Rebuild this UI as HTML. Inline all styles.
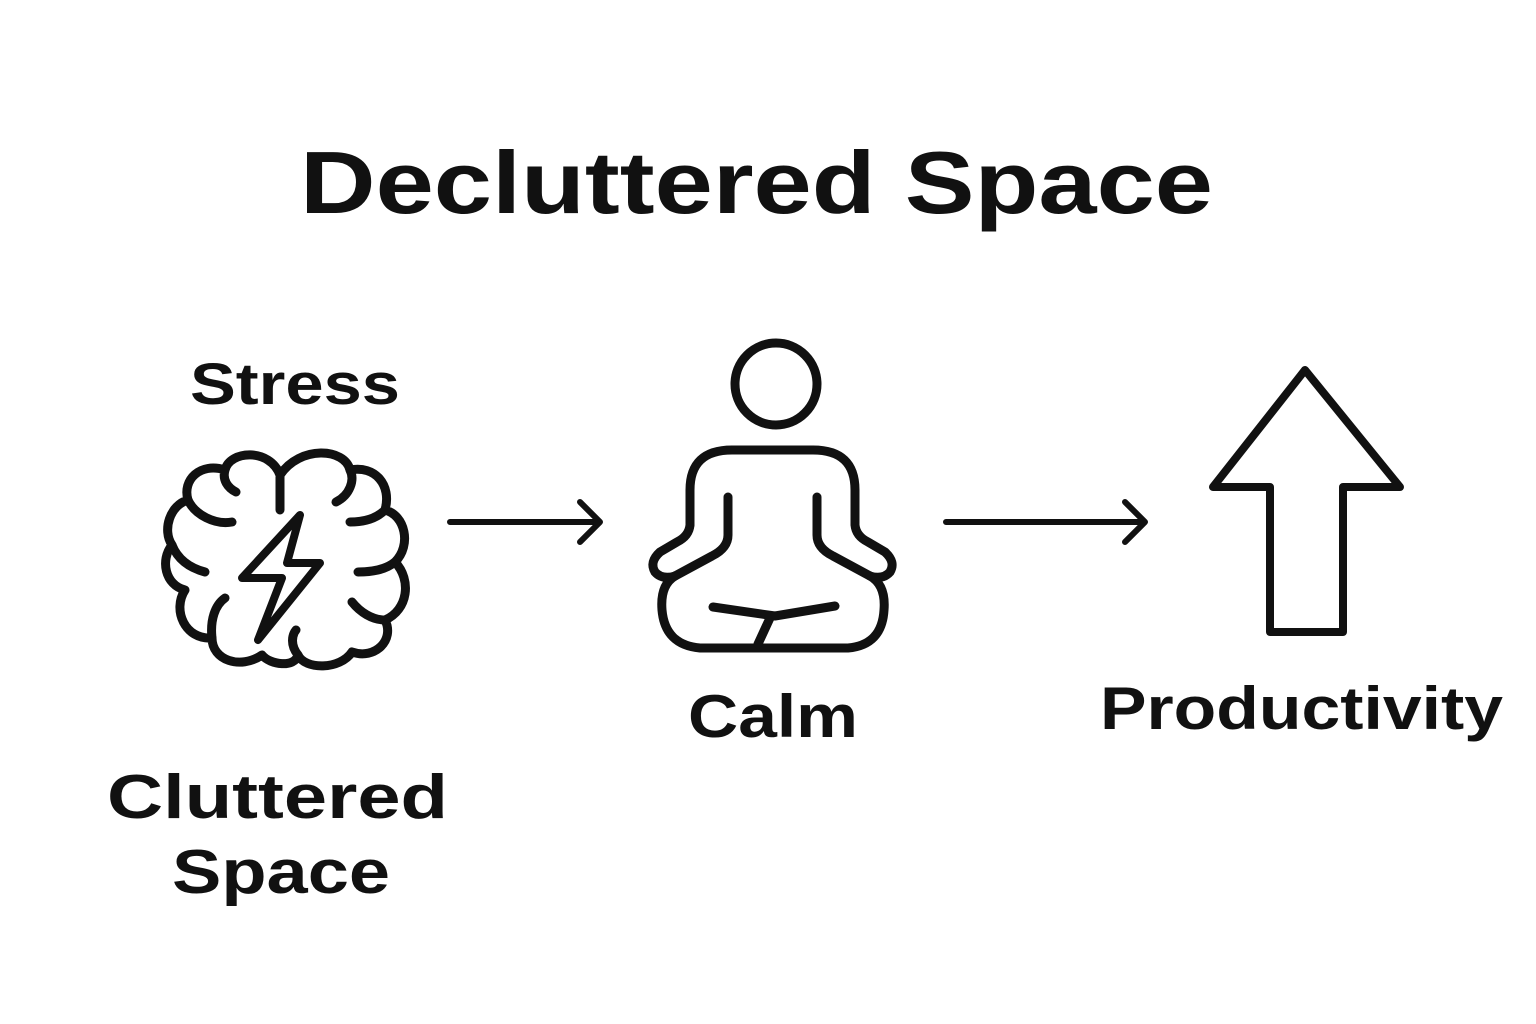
<!DOCTYPE html>
<html><head><meta charset="utf-8"><style>html,body{margin:0;padding:0;background:#fff}svg{display:block}</style></head>
<body>
<svg width="1536" height="1024" viewBox="0 0 1536 1024" xmlns="http://www.w3.org/2000/svg">
<rect width="1536" height="1024" fill="#fff"/>
<g font-family="Liberation Sans, sans-serif" font-weight="bold" fill="#111">
<text x="300" y="213" font-size="88" textLength="913" lengthAdjust="spacingAndGlyphs">Decluttered Space</text>
<text x="190" y="404" font-size="58" textLength="210" lengthAdjust="spacingAndGlyphs">Stress</text>
<text x="688" y="737" font-size="60" textLength="170" lengthAdjust="spacingAndGlyphs">Calm</text>
<text x="1100" y="729" font-size="60" textLength="403" lengthAdjust="spacingAndGlyphs">Productivity</text>
<text x="107" y="818" font-size="62" textLength="341" lengthAdjust="spacingAndGlyphs">Cluttered</text>
<text x="172" y="893" font-size="62" textLength="218" lengthAdjust="spacingAndGlyphs">Space</text>
</g>
<g fill="none" stroke="#111" stroke-width="9" stroke-linecap="round" stroke-linejoin="round">
<path d="M280,475 C270,448 230,450 225,470 C222,480 228,488 236,492 M225,470 C200,462 182,480 188,500 C170,505 162,530 172,545 C160,560 165,585 185,590 C172,610 185,640 212,638 C212,660 240,670 262,655 C270,665 295,668 298,655 M298,655 C305,670 340,670 352,652 C375,660 395,640 385,620 C408,610 412,580 395,562 C412,545 405,515 385,510 C392,485 375,465 350,470 C345,448 300,445 280,475 L280,510"/>
<path d="M188,500 C195,515 215,525 232,522"/>
<path d="M350,470 C355,480 350,495 336,502"/>
<path d="M385,510 C375,520 360,522 350,522"/>
<path d="M172,545 C178,560 190,568 205,572"/>
<path d="M395,562 C385,570 372,572 358,572"/>
<path d="M212,638 C210,620 215,605 225,598"/>
<path d="M385,620 C372,620 360,612 352,602"/>
<path d="M298,655 C290,645 292,635 296,630"/>
<path d="M300,515 L242,578 L282,578 L258,640 L320,563 L287,563 Z" stroke-width="8"/>
<path d="M450,522 L600,522 M580,502 L600,522 L580,542" stroke-width="6"/>
<path d="M946,522 L1145,522 M1125,502 L1145,522 L1125,542" stroke-width="6"/>
<circle cx="776" cy="384" r="41"/>
<path d="M690,525 L690,490 Q690,450 732,450 L813,450 Q855,450 855,490 L855,525 Q856,536 868,542 L885,552 Q896,562 890,572 Q883,580 870,576"/>
<path d="M690,525 Q689,536 677,542 L660,552 Q649,562 655,572 Q662,580 675,576"/>
<path d="M728,497 L728,535 Q728,548 712,556 L675,576"/>
<path d="M817,497 L817,535 Q817,548 833,556 L870,576"/>
<path d="M675,576 Q660,585 662,610 Q665,645 700,648 L848,648 Q882,645 884,610 Q886,585 870,576"/>
<path d="M713,607 L775,616 L835,606 M770,618 L758,644"/>
<path d="M1305,370 L1213,487 L1270,487 L1270,632 L1343,632 L1343,487 L1400,487 Z" stroke-width="8"/>
</g>
</svg>
</body></html>
